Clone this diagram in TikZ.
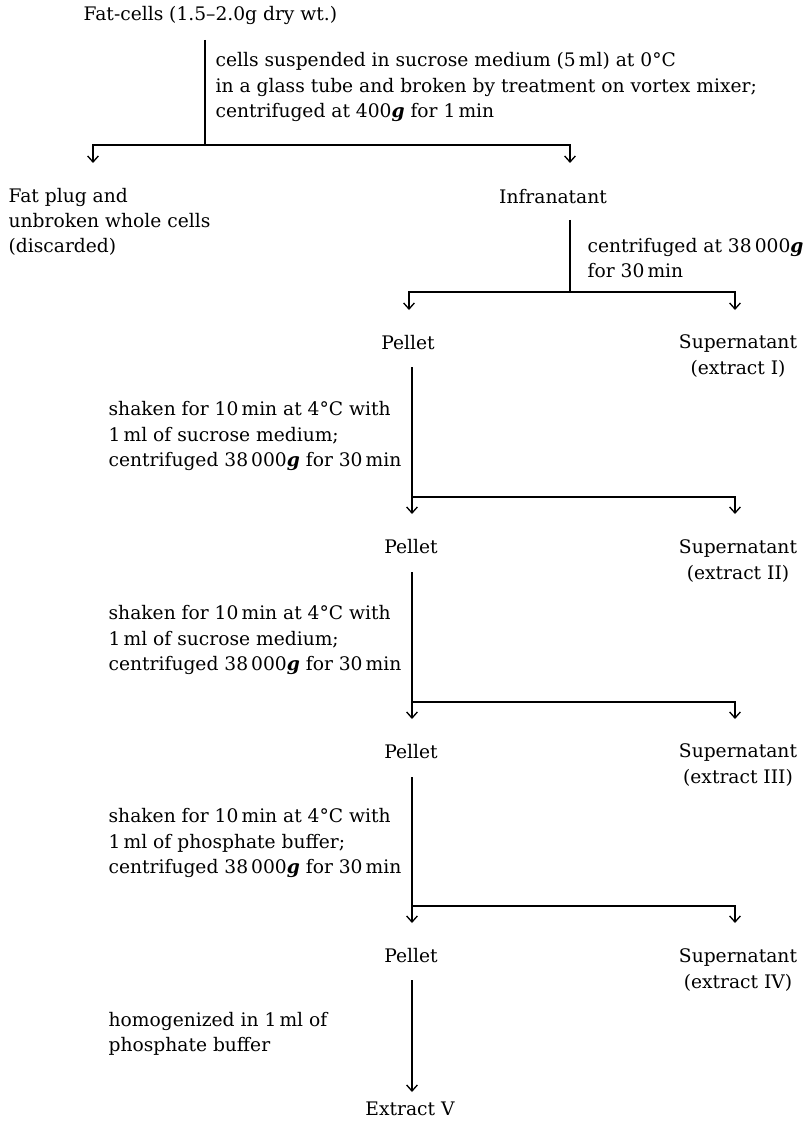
\documentclass[tikz,border=0pt]{standalone}
\usepackage{fontspec}
\setmainfont{DejaVu Serif}
\usetikzlibrary{arrows.meta}
\newcommand{\gforce}{\textbf{\textit{g}}}

\begin{document}
\begin{tikzpicture}[x=0.75pt, y=-0.75pt, line width=1pt,
        >={Straight Barb[length=4.5pt,width=8pt]},
        txt/.style={inner sep=0pt, align=left, font=\fontsize{14}{19}\selectfont},
        ctr/.style={txt, align=center}]
        \useasboundingbox (0,0) rectangle (804,1123);
        % Starting material
        \node[txt, anchor=west] (fat) at (83,15) {Fat-cells (1.5--2.0g dry wt.)};
        \node[txt, anchor=west] (brk) at (215,87) {cells suspended in sucrose medium (5\,ml) at 0°C\\
            in a glass tube and broken by treatment on vortex mixer;\\
            centrifuged at 400\gforce{} for 1\,min};
        \coordinate (top0) at (205,40);
        \coordinate (j0) at (205,145);
        \coordinate (tplug) at (93,163);
        \coordinate (tinfra) at (570,163);
        \draw (top0) -- (j0);
        \draw[->] (j0) -| (tplug);
        \draw[->] (j0) -| (tinfra);
        % First split
        \node[txt, anchor=west] (plug) at (8,222) {Fat plug and\\unbroken whole cells\\(discarded)};
        \node[ctr] (infra) at (553,197) {Infranatant};
        \node[txt, anchor=west] (spin) at (587,258) {centrifuged at 38\,000\gforce\\for 30\,min};
        \coordinate (top1) at (570,220);
        \coordinate (j1) at (570,292);
        \coordinate (tpel1) at (409,310);
        \coordinate (tsup1) at (735,310);
        \draw (top1) -- (j1);
        \draw[->] (j1) -| (tpel1);
        \draw[->] (j1) -| (tsup1);
        % Washes of the pellet
        \node[ctr] (pel1) at (408,343) {Pellet};
        \node[ctr] (sup1) at (738,356) {Supernatant\\(extract I)};
        \node[txt, anchor=west] (wash1) at (108,436) {shaken for 10\,min at 4°C with\\
            1\,ml of sucrose medium;\\centrifuged 38\,000\gforce{} for 30\,min};
        \coordinate (top2) at (412,367);
        \coordinate (j2) at (412,497);
        \coordinate (tpel2) at (412,514);
        \coordinate (tsup2) at (735,514);
        \draw (top2) -- (j2);
        \draw[->] (j2) -- (tpel2);
        \draw[->] (j2) -| (tsup2);

        \node[ctr] (pel2) at (411,547) {Pellet};
        \node[ctr] (sup2) at (738,561) {Supernatant\\(extract II)};
        \node[txt, anchor=west] (wash2) at (108,640) {shaken for 10\,min at 4°C with\\
            1\,ml of sucrose medium;\\centrifuged 38\,000\gforce{} for 30\,min};
        \coordinate (top3) at (412,572);
        \coordinate (j3) at (412,702);
        \coordinate (tpel3) at (412,719);
        \coordinate (tsup3) at (735,719);
        \draw (top3) -- (j3);
        \draw[->] (j3) -- (tpel3);
        \draw[->] (j3) -| (tsup3);

        \node[ctr] (pel3) at (411,752) {Pellet};
        \node[ctr] (sup3) at (738,765) {Supernatant\\(extract III)};
        \node[txt, anchor=west] (wash3) at (108,843) {shaken for 10\,min at 4°C with\\
            1\,ml of phosphate buffer;\\centrifuged 38\,000\gforce{} for 30\,min};
        \coordinate (top4) at (412,777);
        \coordinate (j4) at (412,906);
        \coordinate (tpel4) at (412,923);
        \coordinate (tsup4) at (735,923);
        \draw (top4) -- (j4);
        \draw[->] (j4) -- (tpel4);
        \draw[->] (j4) -| (tsup4);

        \node[ctr] (pel4) at (411,956) {Pellet};
        \node[ctr] (sup4) at (738,970) {Supernatant\\(extract IV)};
        \node[txt, anchor=west] (homog) at (108,1034) {homogenized in 1\,ml of\\phosphate buffer};
        % Final extract
        \node[ctr] (ext5) at (410,1109) {Extract V};
        \coordinate (top5) at (412,980);
        \coordinate (tex5) at (412,1092);
        \draw[->] (top5) -- (tex5);
    \end{tikzpicture}
\end{document}
